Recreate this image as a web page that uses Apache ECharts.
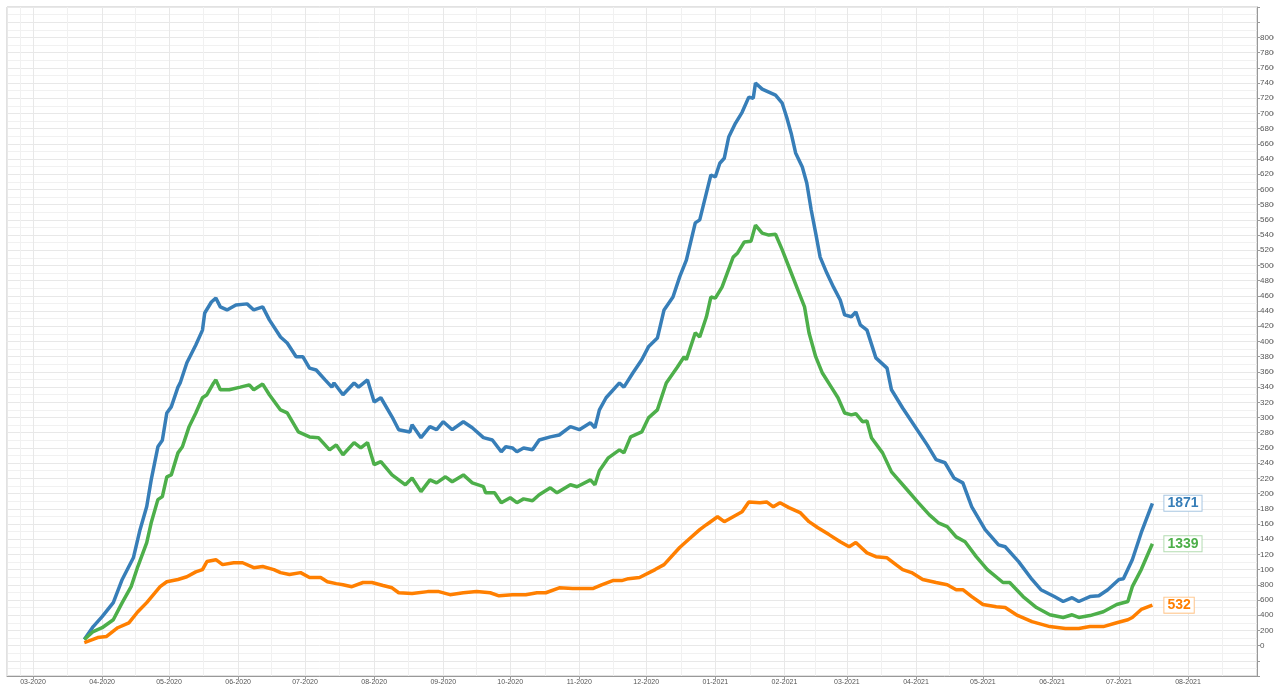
<!DOCTYPE html>
<html>
<head>
<meta charset="utf-8">
<script src="https://cdn.jsdelivr.net/npm/echarts@6/dist/echarts.min.js"></script>
<style>
  html, body { margin: 0; padding: 0; background: #fff; }
  #chart { width: 1274px; height: 686px; }
</style>
</head>
<body>
<div id="chart"></div>
<script>
  // x positions are days counted from 2020-03-01
  const blueDays = [
    23, 27, 31, 36, 40, 45, 48, 51, 53, 56,
    58, 60, 62, 65, 66, 69, 73, 76, 77, 80,
    82, 84, 87, 91, 96, 99, 103, 106, 111, 114,
    118, 121, 124, 127, 131, 134, 135, 139, 144, 146,
    150, 153, 156, 161, 164, 169, 170, 174, 178, 181,
    184, 188, 193, 197, 202, 206, 210, 212, 215, 217,
    220, 224, 227, 232, 236, 241, 245, 250, 252, 254,
    257, 263, 265, 269, 273, 276, 280, 283, 287, 290,
    293, 297, 299, 302, 304, 306, 308, 310, 312, 315,
    318, 321, 323, 324, 327, 330, 333, 336, 338, 340,
    342, 345, 347, 349, 351, 353, 356, 359, 362, 364,
    367, 369, 371, 374, 378, 383, 385, 390, 395, 401,
    405, 409, 413, 417, 421, 427, 433, 436, 442, 448,
    452, 458, 462, 466, 469, 474, 478, 482, 487, 489,
    493, 497, 502
  ];
  const blueValues = [
    80, 250, 380, 565, 870, 1155, 1525, 1830, 2180, 2615,
    2700, 3060, 3140, 3400, 3455, 3720, 3955, 4150, 4375, 4520,
    4570, 4455, 4415, 4480, 4495, 4415, 4455, 4285, 4060, 3980,
    3800, 3800, 3650, 3625, 3495, 3400, 3455, 3300, 3455, 3400,
    3495, 3205, 3260, 3010, 2840, 2810, 2905, 2735, 2880, 2840,
    2945, 2840, 2945, 2865, 2735, 2705, 2550, 2615, 2600, 2550,
    2600, 2575, 2705, 2745, 2770, 2880, 2840, 2930, 2865, 3100,
    3260, 3455, 3400, 3585, 3760, 3930, 4045, 4415, 4585, 4850,
    5070, 5560, 5600, 5955, 6190, 6165, 6345, 6410, 6690, 6870,
    7015, 7215, 7200, 7400, 7320, 7280, 7240, 7135, 6950, 6740,
    6480, 6295, 6085, 5730, 5425, 5110, 4900, 4715, 4545, 4350,
    4325, 4390, 4220, 4150, 3785, 3650, 3365, 3125, 2905, 2640,
    2445, 2405, 2205, 2140, 1825, 1525, 1325, 1300, 1105, 870,
    735, 645, 580, 630, 580, 645, 655, 735, 870, 880,
    1130, 1485, 1871
  ];

  const greenDays = [
    23, 27, 31, 36, 40, 44, 47, 51, 53, 56,
    58, 60, 62, 65, 67, 70, 73, 76, 78, 81,
    82, 84, 88, 93, 97, 99, 103, 106, 111, 114,
    119, 124, 128, 133, 136, 139, 144, 147, 150, 153,
    156, 161, 167, 170, 174, 178, 181, 185, 188, 193,
    197, 202, 203, 207, 210, 214, 217, 220, 224, 227,
    232, 235, 241, 244, 250, 252, 254, 258, 263, 265,
    268, 273, 276, 280, 284, 289, 292, 293, 297, 299,
    302, 304, 306, 309, 314, 316, 319, 322, 324, 327,
    330, 333, 336, 339, 343, 346, 348, 351, 354, 358,
    361, 364, 367, 369, 372, 374, 376, 381, 385, 392,
    397, 402, 406, 410, 414, 418, 423, 428, 435, 438,
    444, 450, 456, 462, 466, 469, 474, 480, 486, 491,
    493, 497, 502
  ];
  const greenValues = [
    80, 185, 235, 340, 565, 775, 1040, 1355, 1615, 1920,
    1960, 2220, 2245, 2535, 2615, 2880, 3060, 3260, 3300, 3455,
    3495, 3365, 3365, 3400, 3430, 3365, 3440, 3300, 3100, 3060,
    2810, 2745, 2735, 2575, 2640, 2510, 2670, 2600, 2670, 2380,
    2420, 2245, 2115, 2205, 2025, 2180, 2140, 2220, 2155, 2245,
    2140, 2090, 2010, 2010, 1880, 1945, 1880, 1930, 1905, 1985,
    2075, 2010, 2115, 2090, 2180, 2115, 2300, 2470, 2575, 2535,
    2745, 2810, 2995, 3100, 3455, 3665, 3800, 3760, 4115, 4060,
    4325, 4585, 4570, 4715, 5110, 5165, 5310, 5320, 5530, 5425,
    5400, 5410, 5205, 4980, 4680, 4455, 4115, 3800, 3585, 3400,
    3260, 3060, 3035, 3050, 2945, 2955, 2735, 2535, 2285, 2050,
    1880, 1720, 1615, 1565, 1430, 1365, 1170, 1000, 830, 830,
    645, 500, 405, 370, 405, 370, 395, 445, 540, 580,
    775, 1000, 1339
  ];

  const orangeDays = [
    23, 29, 33, 38, 43, 47, 51, 54, 57, 60,
    65, 69, 73, 76, 78, 82, 85, 90, 94, 99,
    103, 108, 111, 115, 120, 124, 129, 132, 136, 139,
    143, 148, 152, 157, 161, 164, 170, 177, 182, 187,
    193, 199, 205, 209, 215, 221, 226, 230, 236, 242,
    248, 251, 255, 260, 264, 267, 272, 279, 283, 290,
    294, 299, 302, 307, 310, 314, 318, 321, 326, 329,
    332, 335, 339, 344, 348, 352, 357, 362, 366, 369,
    374, 378, 383, 387, 390, 394, 399, 405, 410, 414,
    417, 421, 426, 432, 436, 441, 448, 456, 463, 469,
    474, 480, 486, 491, 493, 497, 502
  ];
  const orangeValues = [
    40, 105, 120, 235, 300, 445, 565, 670, 775, 840,
    870, 905, 970, 1000, 1105, 1130, 1065, 1090, 1090, 1025,
    1040, 1000, 960, 935, 960, 895, 895, 840, 815, 800,
    775, 830, 830, 790, 760, 695, 685, 710, 710, 670,
    695, 710, 695, 655, 670, 670, 695, 695, 760, 750,
    750, 750, 800, 855, 855, 880, 895, 1000, 1065, 1290,
    1395, 1525, 1590, 1695, 1630, 1695, 1760, 1890, 1880, 1890,
    1825, 1880, 1815, 1750, 1630, 1550, 1460, 1365, 1300, 1355,
    1220, 1170, 1155, 1065, 1000, 960, 870, 830, 800, 735,
    735, 645, 540, 510, 500, 405, 315, 250, 225, 225,
    250, 250, 300, 340, 370, 475, 532
  ];

  const dayMs = 86400000;
  const start = new Date(2020, 2, 1).getTime();

  function toPoints(days, values) {
    return days.map((d, i) => [start + d * dayMs, values[i]]);
  }

  function lineSeries(name, days, values, color, boxColor) {
    return {
      name: name,
      type: 'line',
      showSymbol: false,
      symbol: 'none',
      data: toPoints(days, values),
      lineStyle: { color: color, width: 3.5 },
      itemStyle: { color: color },
      endLabel: {
        show: true,
        formatter: p => p.value[1],
        distance: 12,
        color: color,
        fontSize: 14,
        fontWeight: 'bold',
        fontFamily: 'Liberation Sans, Arial, sans-serif',
        backgroundColor: '#fff',
        borderColor: boxColor,
        borderWidth: 1,
        padding: [1, 3, 0, 3]
      }
    };
  }

  const chart = echarts.init(document.getElementById('chart'));
  chart.setOption({
    animation: false,
    backgroundColor: '#fff',
    grid: {
      left: 7, right: 17, top: 7, bottom: 10,
      outerBoundsMode: 'none',
      containLabel: false,
      show: true, borderColor: '#c4c4c4', borderWidth: 1
    },
    xAxis: {
      type: 'time',
      min: new Date(2020, 1, 18, 8).getTime(),
      max: new Date(2021, 7, 31, 22).getTime(),
      minInterval: 28 * dayMs,
      maxInterval: 31 * dayMs,
      splitNumber: 20,
      axisLine: { show: true, onZero: false, lineStyle: { color: '#999', width: 1 } },
      axisTick: { show: true, length: 3, lineStyle: { color: '#999' } },
      axisLabel: {
        formatter: '{MM}-{yyyy}',
        fontSize: 7,
        color: '#555',
        margin: 3,
        showMinLabel: false,
        showMaxLabel: false,
        fontFamily: 'Liberation Sans, Arial, sans-serif'
      },
      splitLine: { show: true, lineStyle: { color: '#e8e8e8', width: 1 } },
      minorTick: { show: false, splitNumber: 2 },
      minorSplitLine: { show: true, lineStyle: { color: '#f1f1f1', width: 1 } }
    },
    yAxis: {
      type: 'value',
      position: 'right',
      min: -400,
      max: 8400,
      interval: 200,
      axisLine: { show: true, lineStyle: { color: '#999', width: 1 } },
      axisTick: { show: true, length: 3, lineStyle: { color: '#999' } },
      axisLabel: {
        fontSize: 8,
        color: '#555',
        margin: 3,
        fontFamily: 'Liberation Sans, Arial, sans-serif',
        formatter: v => (v < 0 || v > 8000) ? '' : String(v)
      },
      splitLine: { show: true, lineStyle: { color: '#e8e8e8', width: 1 } },
      minorTick: { show: false, splitNumber: 2 },
      minorSplitLine: { show: true, lineStyle: { color: '#f1f1f1', width: 1 } }
    },
    series: [
      lineSeries('blue', blueDays, blueValues, '#377eb8', '#a9c7e2'),
      lineSeries('green', greenDays, greenValues, '#4daf4a', '#b3dcb1'),
      lineSeries('orange', orangeDays, orangeValues, '#ff7f00', '#ffc68c')
    ]
  });
</script>
</body>
</html>
